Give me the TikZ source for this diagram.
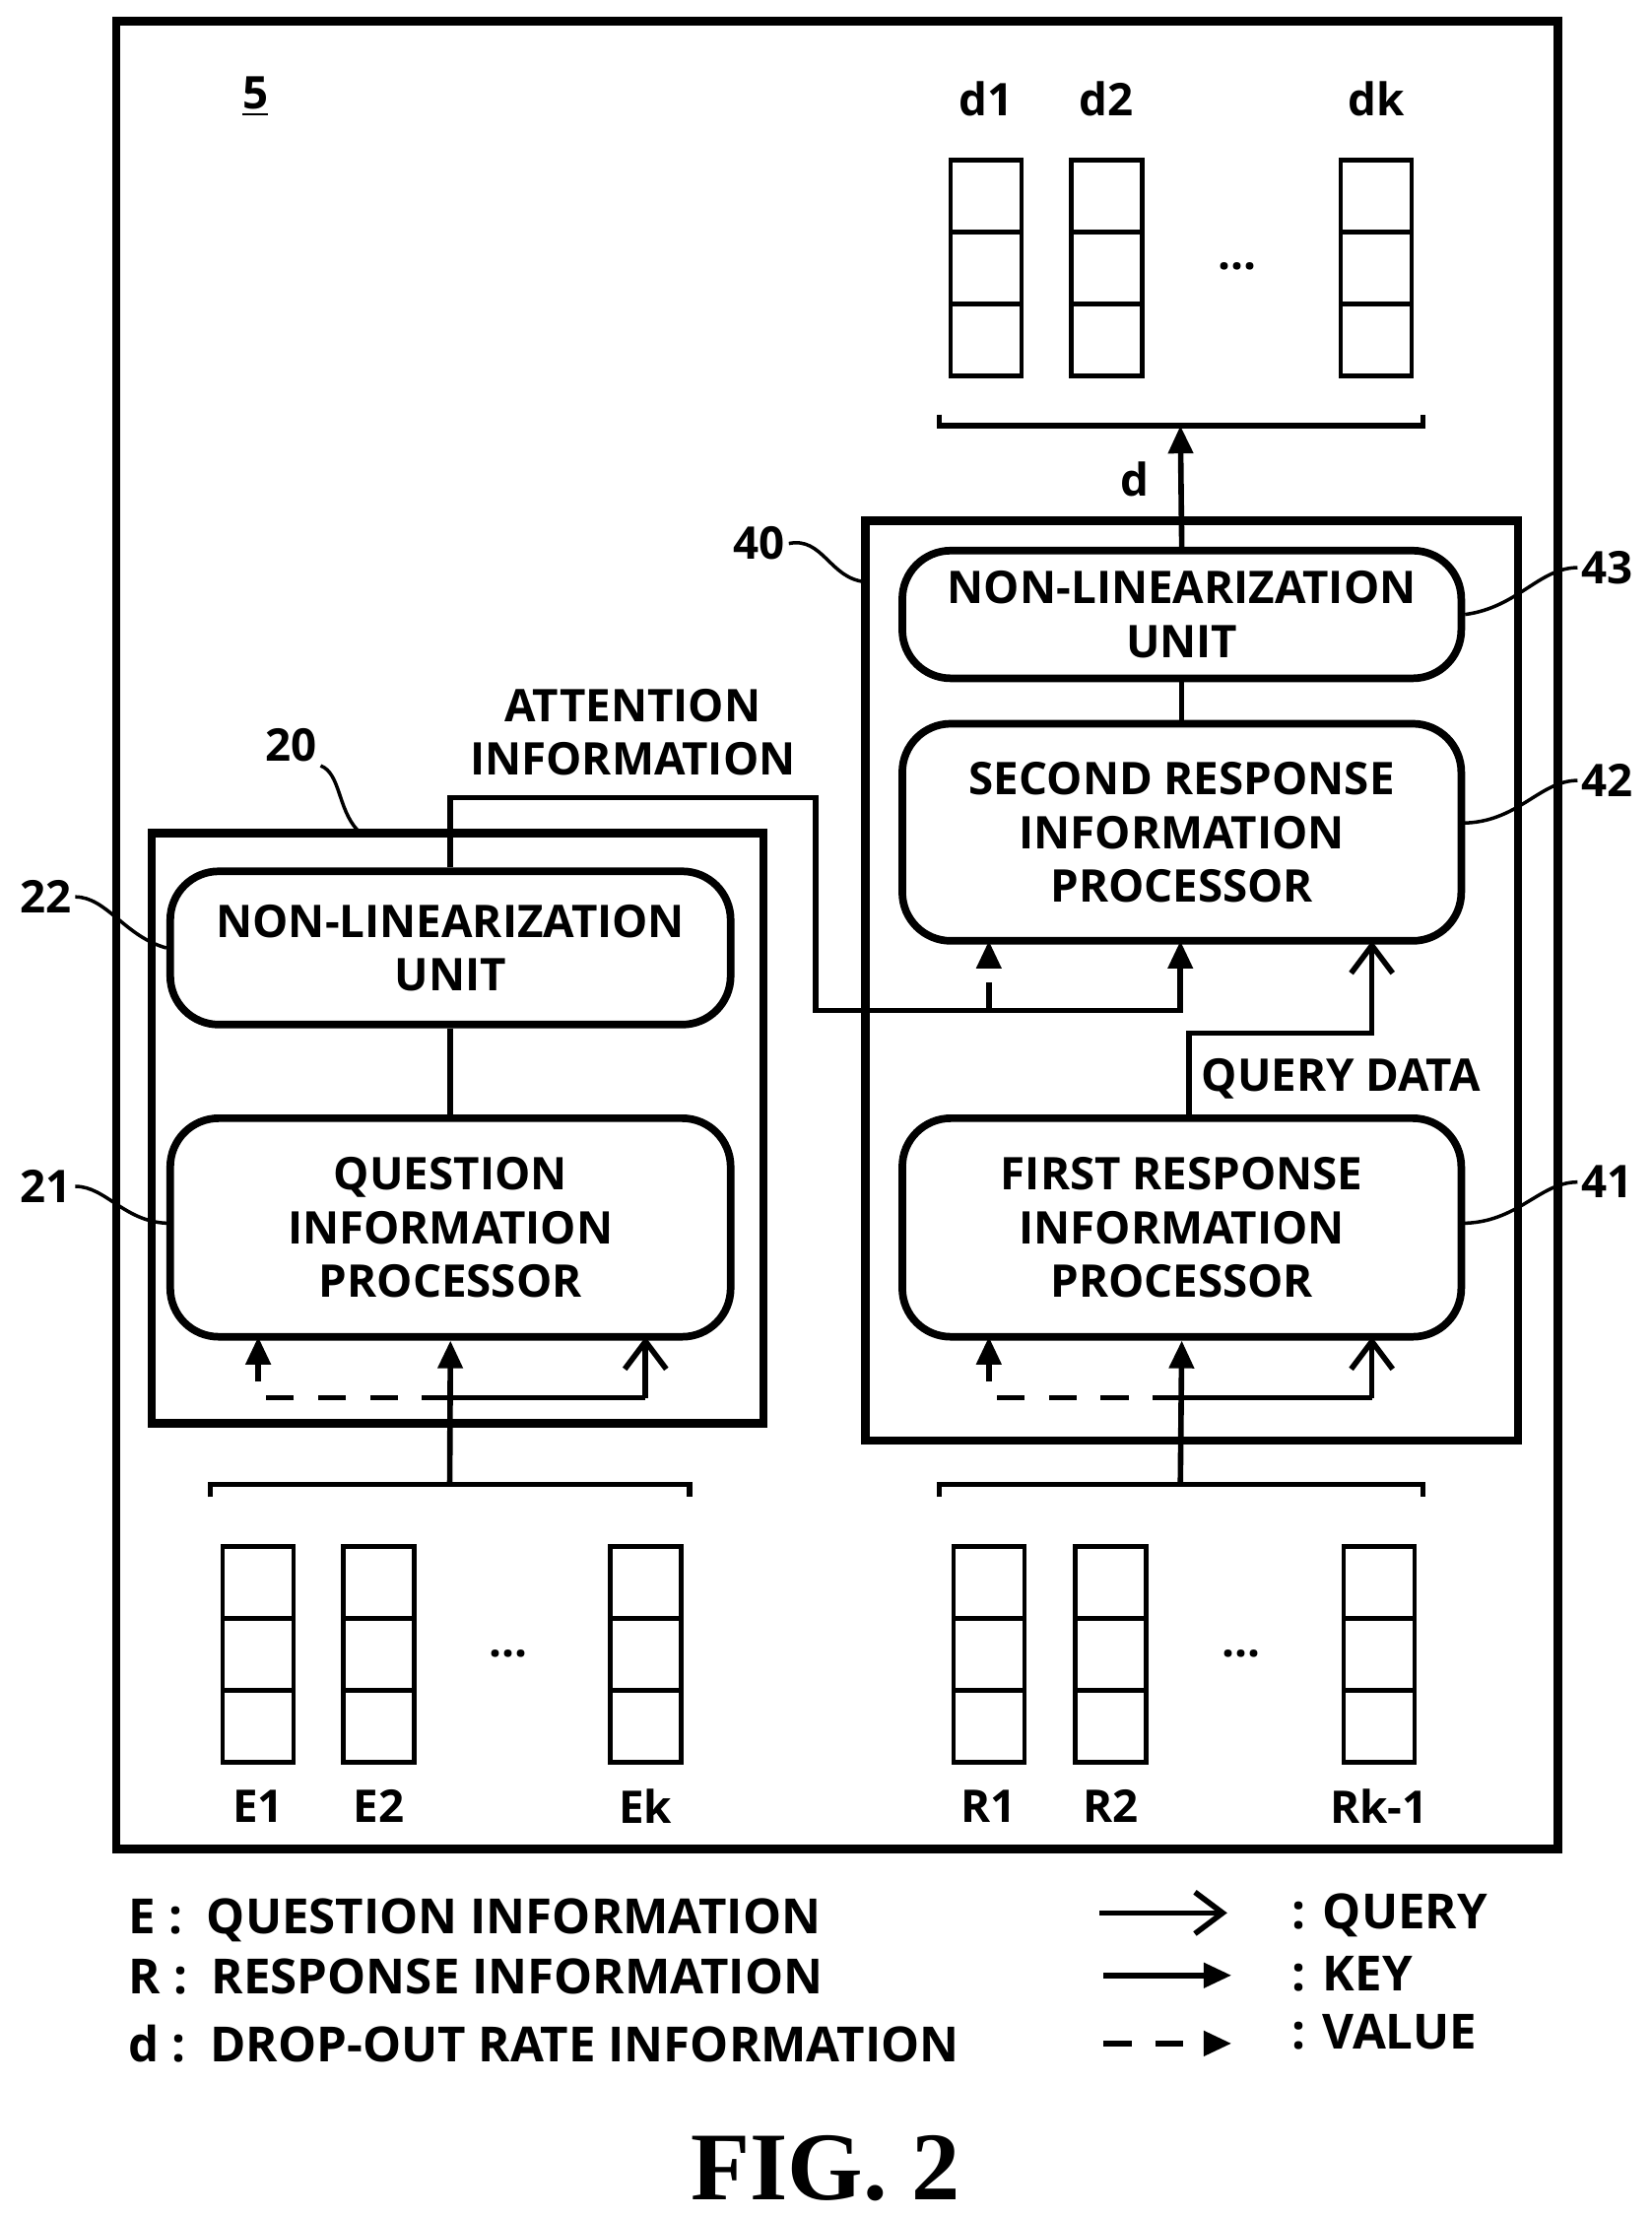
\documentclass[tikz,border=0pt]{standalone}
\usepackage{fontspec}
\setmainfont{Open Sans}
\usetikzlibrary{arrows.meta,positioning}
\tikzset{
  box/.style={draw, line width=2.2pt, rounded corners=14pt, align=center, font=\bfseries\fontsize{13}{15.5}\selectfont, inner sep=0pt},
  frame/.style={draw, line width=2.4pt},
  cell/.style={draw, line width=1.3pt, minimum width=0.72cm, minimum height=0.73cm, inner sep=0pt, outer sep=0pt},
  lab/.style={font=\bfseries\fontsize{13}{15.5}\selectfont, align=center, inner sep=1pt},
  leg/.style={font=\bfseries\fontsize{14}{16}\selectfont, inner sep=1pt},
  key/.style={line width=1.6pt, -{Triangle[length=8pt,width=7pt]}},
  query/.style={line width=1.6pt, -{Straight Barb[length=8pt,width=12pt,line width=1.6pt]}},
  value/.style={key, dash pattern=on 8pt off 7pt},
  lead/.style={line width=1pt},
}
\begin{document}
\begin{tikzpicture}[x=0.0144cm, y=-0.0144cm]
\useasboundingbox (0,0) rectangle (1164,1563);
% outer frame
\draw[frame] (82,15) rectangle (1098,1303);
\node[lab] (five) at (180,68) {\underline{5}};

% output vectors d
\foreach \nm/\x in {d1/695, d2/780, dk/970} {
  \foreach \i in {0,1,2}
    \node[cell] (\nm c\i) at (\x,138+50.7*\i) {};
  \node[lab] (\nm) at (\x,70) {\nm};
}
\node[lab] (ddots) at (872,188) {...};
\draw[line width=1.5pt] (662,292) -- (662,300) -- (1003,300) -- (1003,292);
\coordinate (dtop) at (832,300);

% input vectors E and R
\foreach \nm/\x in {E1/182, E2/267, Ek/455, R1/697, R2/783, Rk-1/972} {
  \foreach \i in {0,1,2}
    \node[cell] (\nm c\i) at (\x,1115+50.7*\i) {};
  \node[lab] (\nm) at (\x,1273) {\nm};
}
\node[lab] (edots) at (358,1165) {...};
\node[lab] (rdots) at (875,1165) {...};
\draw[line width=1.5pt] (148,1055) -- (148,1046) -- (486,1046) -- (486,1055);
\draw[line width=1.5pt] (662,1055) -- (662,1046) -- (1003,1046) -- (1003,1055);

% unit 20
\draw[frame] (107,587) rectangle (538,1003);
\node[box, minimum width=395*0.0144cm, minimum height=108*0.0144cm] (n22) at (317.5,668) {NON-LINEARIZATION\\UNIT};
\node[box, minimum width=395*0.0144cm, minimum height=154*0.0144cm] (q21) at (317.5,865) {QUESTION\\INFORMATION\\PROCESSOR};

% unit 40
\draw[frame] (610,367) rectangle (1070,1015);
\node[box, minimum width=394*0.0144cm, minimum height=90*0.0144cm] (n43) at (833,433) {NON-LINEARIZATION\\UNIT};
\node[box, minimum width=394*0.0144cm, minimum height=153*0.0144cm] (r42) at (833,586.5) {SECOND RESPONSE\\INFORMATION\\PROCESSOR};
\node[box, minimum width=394*0.0144cm, minimum height=154*0.0144cm] (r41) at (833,865) {FIRST RESPONSE\\INFORMATION\\PROCESSOR};

% reference numerals
\node[lab] (l20) at (205,525) {20};
\node[lab] (l22) at (32,632) {22};
\node[lab] (l21) at (32,836) {21};
\node[lab] (l40) at (535,383) {40};
\node[lab] (l43) at (1133,400) {43};
\node[lab] (l42) at (1133,550) {42};
\node[lab] (l41) at (1133,833) {41};
\draw[lead] (l20.south east) .. controls (240,545) and (238,570) .. (252,585);
\draw[lead] (l22.east) .. controls (75,632) and (88,660) .. (n22.west);
\draw[lead] (l21.east) .. controls (75,836) and (88,862) .. (120,862);
\draw[lead] (l40.east) .. controls (580,378) and (585,408) .. (610,410);
\draw[lead] (l43.west) .. controls (1085,400) and (1070,428) .. (n43.east);
\draw[lead] (l42.west) .. controls (1085,550) and (1070,580) .. (1030,580);
\draw[lead] (l41.west) .. controls (1085,833) and (1070,862) .. (1030,862);

% connections in 20
\draw[line width=1.6pt] (q21.north) -- (n22.south);
\coordinate (ebr) at (317,1046);
\draw[key] (ebr) -- (q21.south);
\draw[line width=1.6pt] (317,985) -- (455,985);
\draw[query] (455,985) -- (455,942);
\draw[value] (317,985) -| (182,942);

% connections in 40
\draw[line width=1.6pt] (r42.north) -- (n43.south);
\draw[key] (n43.north) -- (dtop);
\node[lab] (dlab) at (800,338) {d};
\coordinate (rbr) at (832,1046);
\draw[key] (rbr) -- (r41.south);
\draw[line width=1.6pt] (832,985) -- (967,985);
\draw[query] (967,985) -- (967,942);
\draw[value] (832,985) -| (697,942);

% query data
\draw[query] (838,788) |- (967,728) -- (967,663);
\node[lab, anchor=west] (qd) at (844,760) {QUERY DATA};

% attention information
\draw[key] (n22.north) |- (575,562) |- (832,712) -- (832,663);
\draw[value] (697,712) -- (697,663);
\node[lab] (att) at (446,516) {ATTENTION\\INFORMATION};

% legend
\node[leg, anchor=west] (le) at (88,1353) {E :\enspace QUESTION INFORMATION};
\node[leg, anchor=west] (lr) at (88,1393) {R :\enspace RESPONSE INFORMATION};
\node[leg, anchor=west] (ld) at (88,1440) {d :\enspace DROP-OUT RATE INFORMATION};
\coordinate (qa) at (775,1348); \coordinate (qb) at (865,1348);
\coordinate (ka) at (778,1392); \coordinate (kb) at (868,1392);
\coordinate (va) at (778,1440); \coordinate (vb) at (868,1440);
\draw[query] (qa) -- (qb);
\draw[key] (ka) -- (kb);
\draw[value] (va) -- (vb);
\node[leg, anchor=west] (lq) at (908,1350) {: QUERY};
\node[leg, anchor=west] (lk) at (908,1391) {: KEY};
\node[leg, anchor=west] (lv) at (908,1432) {: VALUE};

\node[font=\fontspec{Liberation Serif}\bfseries\fontsize{28}{32}\selectfont] (fig) at (582,1528) {FIG. 2};
\end{tikzpicture}
\end{document}
